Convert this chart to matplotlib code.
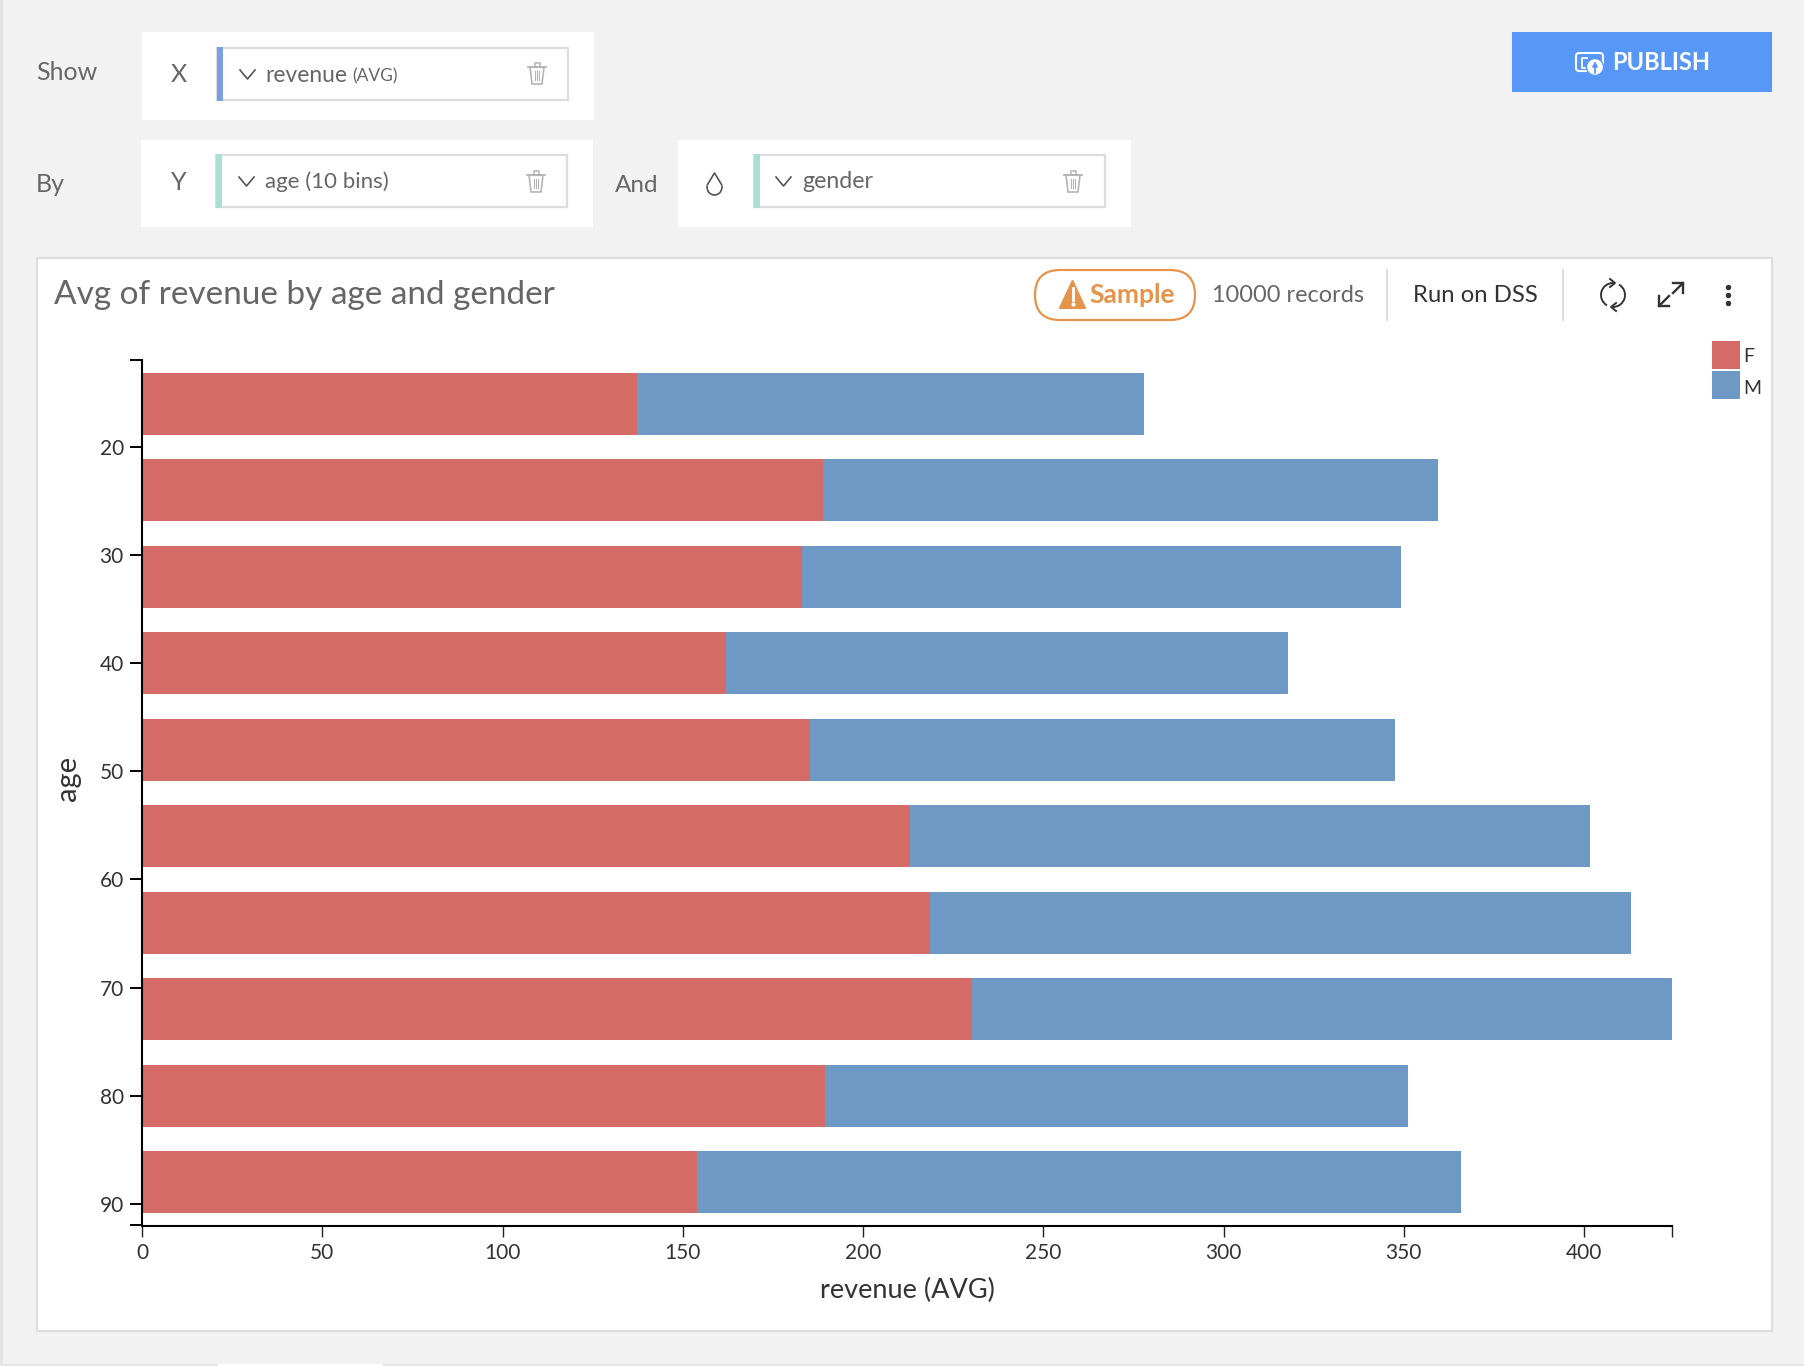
import matplotlib
matplotlib.use('Agg')
import matplotlib.pyplot as plt
from matplotlib.patches import Rectangle, FancyBboxPatch, Polygon, Circle, Ellipse, Arc

plt.rcParams['font.family'] = ['Lato', 'DejaVu Sans']

W, H = 1804, 1366

# chart data
age_centers = [16, 24, 32, 40, 48, 56, 64, 72, 80, 88]
revenue_f = [137.4, 189.0, 183.0, 162.0, 185.2, 213.1, 218.5, 230.2, 189.5, 154.0]
revenue_m = [140.6, 170.4, 166.2, 156.0, 162.3, 188.6, 194.5, 194.2, 161.6, 212.0]
age_ticks = [20, 30, 40, 50, 60, 70, 80, 90]
revenue_ticks = [0, 50, 100, 150, 200, 250, 300, 350, 400]

COL_F = '#d46b66'
COL_M = '#6d99c4'
TXT = '#666666'
DARK = '#333333'
LINE = '#dddddd'
ICON = '#b5b5b5'

fig = plt.figure(figsize=(W / 100, H / 100), dpi=100, facecolor='#f2f2f2')

# overlay in pixel coordinates for the interface around the chart
ui = fig.add_axes([0, 0, 1, 1], zorder=0)
ui.set_xlim(0, W)
ui.set_ylim(H, 0)
ui.axis('off')


def box(x0, y0, x1, y1, fc='white', ec='none', lw=0, z=1):
    ui.add_patch(Rectangle((x0, y0), x1 - x0, y1 - y0, fc=fc, ec=ec, lw=lw, zorder=z))


def label(x, y, s, size=17, color=TXT, ha='left', weight='normal'):
    ui.text(x, y + 2, s, fontsize=size, color=color, ha=ha, va='center', weight=weight, zorder=5)


def chevron(x, y):
    ui.plot([x, x + 7.5, x + 15], [y, y + 9, y], color='#555555', lw=1.2, zorder=5)


def trash(x, y):
    # x,y = top left of the icon
    ui.plot([x, x + 18], [y + 4, y + 4], color=ICON, lw=1.3, zorder=5)
    ui.add_patch(Rectangle((x + 6.5, y), 5, 4, fc='none', ec=ICON, lw=1.1, zorder=5))
    ui.add_patch(Polygon([(x + 2, y + 4), (x + 4, y + 21), (x + 14, y + 21), (x + 16, y + 4)],
                         fc='none', ec=ICON, lw=1.2, zorder=5))
    for dx in (7, 9, 11):
        ui.plot([x + dx, x + dx], [y + 8, y + 17], color=ICON, lw=0.8, zorder=5)


def field(x0, y0, x1, y1, bar_color):
    box(x0, y0, x1, y1, fc='white', ec=LINE, lw=1.6, z=2)
    box(x0, y0 - 1, x0 + 6, y1 + 1, fc=bar_color, z=3)


# page edges
box(0, 0, 3, H, fc='#e4e4e4')
box(0, 1364, W, H, fc='#e4e4e4')
box(218, 1364, 383, H, fc='white')

# control rows
box(142, 32, 594, 120)
box(141, 140, 593, 227)
box(678, 140, 1131, 227)
field(217, 48, 568, 100, '#7c9fe0')
field(216, 155, 567, 207, '#a9e0d3')
field(754, 155, 1105, 207, '#a9e0d3')

label(36, 71, 'Show', 18)
label(36, 183, 'By', 18)
label(615, 183, 'And', 17.5)
label(171, 73, 'X', 18)
label(171, 180, 'Y', 18)
chevron(240, 70)
chevron(239, 177)
chevron(776, 177)
label(265, 73, 'revenue', 16.4)
label(352, 74, '(AVG)', 12.5)
label(265, 180, 'age (10 bins)', 16)
label(802, 180, 'gender', 16.7)
trash(528, 63)
trash(527, 171)
trash(1064, 171)

# drop icon for the colour slot
ui.add_patch(Ellipse((714.5, 187), 15, 16, fc='none', ec='#555555', lw=1.2, zorder=5))
ui.add_patch(Rectangle((706, 178), 18, 8, fc='white', ec='none', zorder=5))
ui.plot([707.2, 714.5, 721.8], [185, 173, 185], color='#555555', lw=1.2, zorder=6)

# publish button
box(1512, 32, 1772, 92, fc='#5797f7')
ui.add_patch(FancyBboxPatch((1576, 53), 27, 18, boxstyle='round,pad=0,rounding_size=3',
                            fc='none', ec='white', lw=1.5, zorder=5))
ui.plot([1587, 1582, 1582, 1585], [58, 58, 68, 68], color='white', lw=1.3, zorder=5)
ui.add_patch(Circle((1595, 67), 8.5, fc='white', ec='#5797f7', lw=1, zorder=6))
ui.annotate('', xy=(1595, 61), xytext=(1595, 73), zorder=7,
            arrowprops=dict(arrowstyle='-|>', color='#5797f7', lw=1.3, mutation_scale=7,
                            shrinkA=0, shrinkB=0))
label(1612, 60.5, 'PUBLISH', 17, 'white', weight='bold')

# chart card
box(37, 258, 1772, 1331, fc='white', ec=LINE, lw=1.6)
label(54, 293, 'Avg of revenue by age and gender', 24, TXT)

ui.add_patch(FancyBboxPatch((1035, 270), 160, 50, boxstyle='round,pad=0,rounding_size=25',
                            fc='white', ec='#e5944b', lw=1.6, zorder=3))
ui.add_patch(Polygon([(1072.5, 281), (1060, 308), (1085, 308)], fc='#e5944b', ec='#e5944b',
                     lw=1.5, joinstyle='round', zorder=5))
ui.plot([1072.5, 1072.5], [288, 300], color='white', lw=2, zorder=6)
ui.plot([1072.5], [304], 'o', color='white', ms=2, zorder=6)
label(1089, 293, 'Sample', 19, '#e5944b', weight='bold')
label(1212, 293, '10000 records', 16.9, TXT)
label(1413, 293, 'Run on DSS', 17.2, DARK)
box(1386, 269, 1388, 321, fc=LINE)
box(1562, 269, 1564, 321, fc=LINE)

# refresh, expand and menu icons
ui.add_patch(Arc((1613, 295), 24, 24, theta1=120, theta2=270, color=DARK, lw=1.4, zorder=5))
ui.add_patch(Arc((1613, 295), 24, 24, theta1=-60, theta2=90, color=DARK, lw=1.4, zorder=5))
ui.plot([1610, 1615, 1610], [279, 283, 287], color=DARK, lw=1.4, zorder=5)
ui.plot([1616, 1611, 1616], [303, 307, 311], color=DARK, lw=1.4, zorder=5)
for (a, b, sx, sy) in [(1659, 306, 1, -1), (1683, 283, -1, 1)]:
    ui.plot([a, a + sx * 10], [b, b + sy * 10], color=DARK, lw=1.7, zorder=5)
    ui.plot([a, a, a + sx * 10], [b + sy * 10, b, b], color=DARK, lw=1.7, zorder=5)
for yy in (287, 295, 303):
    ui.plot([1728], [yy], 'o', color=DARK, ms=2.9, zorder=5)

# legend swatches
box(1712, 341, 1740, 369, fc=COL_F, z=2)
box(1712, 371, 1740, 399, fc=COL_M, z=2)
label(1743, 355, 'F', 14, DARK)
label(1743, 386, 'M', 14, DARK)

# the bars
ax = fig.add_axes([142 / W, 1 - 1225.5 / H, (1672 - 142) / W, (1225.5 - 360.5) / H], zorder=1)
ax.patch.set_alpha(0)
bar_h = 5.71
ax.barh(age_centers, revenue_f, height=bar_h, color=COL_F, label='F')
ax.barh(age_centers, revenue_m, height=bar_h, left=revenue_f, color=COL_M, label='M')
ax.set_xlim(0, 424.4)
ax.set_ylim(92, 12)

for s in ('top', 'right'):
    ax.spines[s].set_visible(False)
for s in ('left', 'bottom'):
    ax.spines[s].set_linewidth(1.5)
    ax.spines[s].set_color('black')

# domain end ticks carry no label
ax.set_yticks([12] + age_ticks + [92])
ax.set_yticklabels([''] + [str(v) for v in age_ticks] + [''])
ax.set_xticks(revenue_ticks + [424.4])
ax.set_xticklabels([str(v) for v in revenue_ticks] + [''])
ax.tick_params(axis='y', length=8.6, width=1.4, color='black', labelsize=15,
               labelcolor=DARK, pad=4.5)
ax.tick_params(axis='x', length=8, width=1.0, color='#222222', labelsize=15,
               labelcolor=DARK, pad=4.5)

ax.set_xlabel('revenue (AVG)', fontsize=19.5, color=DARK)
ax.xaxis.set_label_coords((907 - 142) / (1672 - 142), -(1290 - 1225.5) / (1225.5 - 360.5))
ax.xaxis.label.set_va('center')
ax.set_ylabel('age', fontsize=21, color=DARK)
ax.yaxis.set_label_coords((68 - 142) / (1672 - 142), 1 - (778 - 360.5) / (1225.5 - 360.5))
ax.yaxis.label.set_va('center')

fig.savefig('out.png', dpi=100, facecolor=fig.get_facecolor())
